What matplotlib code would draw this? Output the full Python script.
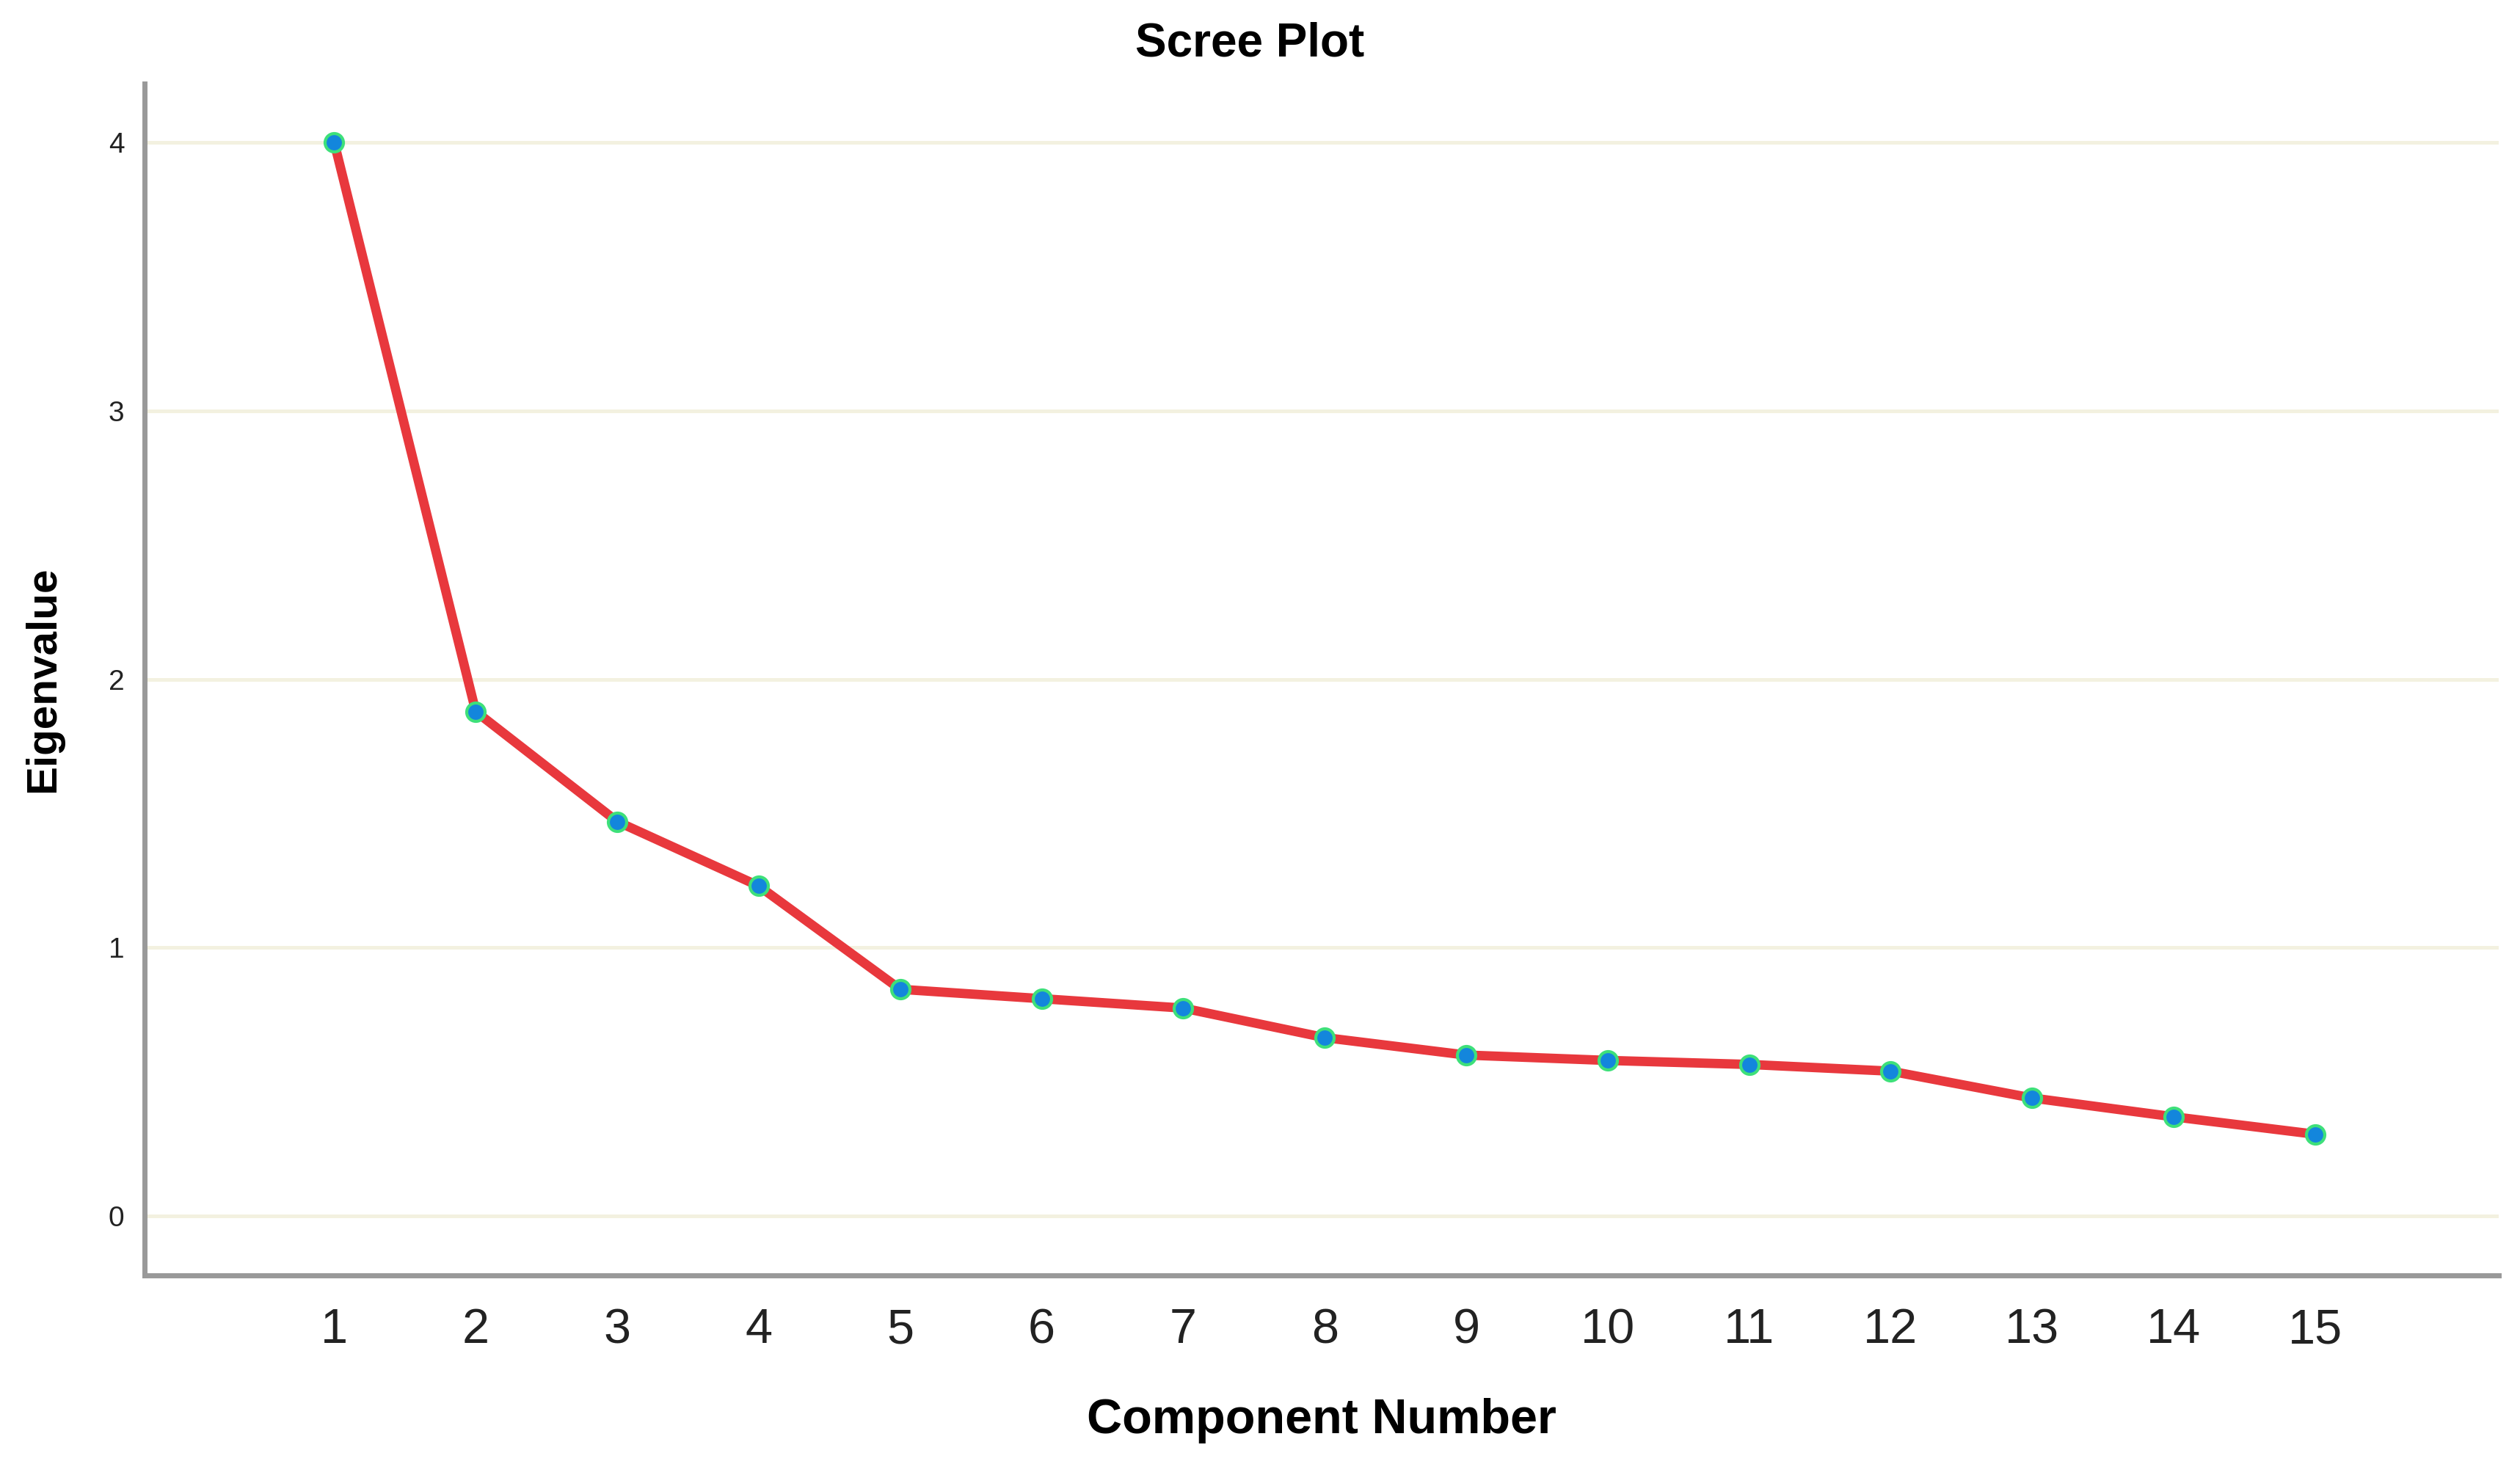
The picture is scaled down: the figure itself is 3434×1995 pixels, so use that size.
import matplotlib.pyplot as plt

components = list(range(1, 16))
eigenvalues = [4.00, 1.88, 1.47, 1.23, 0.845, 0.81, 0.775, 0.665, 0.60,
               0.58, 0.565, 0.54, 0.44, 0.37, 0.305]
y_ticks = [0, 1, 2, 3, 4]

plt.rcParams['font.family'] = ['Liberation Sans', 'DejaVu Sans']

fig = plt.figure(figsize=(17.17, 9.975), dpi=200)
ax = fig.add_axes([0.0574, 0.129, 0.9343, 0.814])

for y in y_ticks:
    ax.axhline(y, color='#f3f1e0', linewidth=1.8, zorder=0)

ax.plot(components, eigenvalues, '-', color='#e8383d', linewidth=4.6, zorder=2)
ax.plot(components, eigenvalues, 'o', markersize=9, markerfacecolor='#1386dc',
        markeredgecolor='#3ee07a', markeredgewidth=1.5, zorder=3)

ax.set_xlim(-0.34, 16.3)
ax.set_ylim(-0.22, 4.22)
ax.set_xticks(components)
ax.set_yticks(y_ticks)
ax.tick_params(axis='x', length=0, labelsize=24, pad=16, labelcolor='#222222')
ax.tick_params(axis='y', length=0, labelsize=14, pad=10, labelcolor='#222222')

for side in ['top', 'right']:
    ax.spines[side].set_visible(False)
for side in ['left', 'bottom']:
    ax.spines[side].set_color('#999999')
    ax.spines[side].set_linewidth(2.5)

fig.text(0.496, 0.970, 'Scree Plot', fontsize=23, fontweight='bold',
         ha='center', va='center')
ax.set_xlabel('Component Number', fontsize=24, fontweight='bold', labelpad=22)
ax.set_ylabel('Eigenvalue', fontsize=21, fontweight='bold', labelpad=22)

fig.savefig('out.png', dpi=200, facecolor='white')
